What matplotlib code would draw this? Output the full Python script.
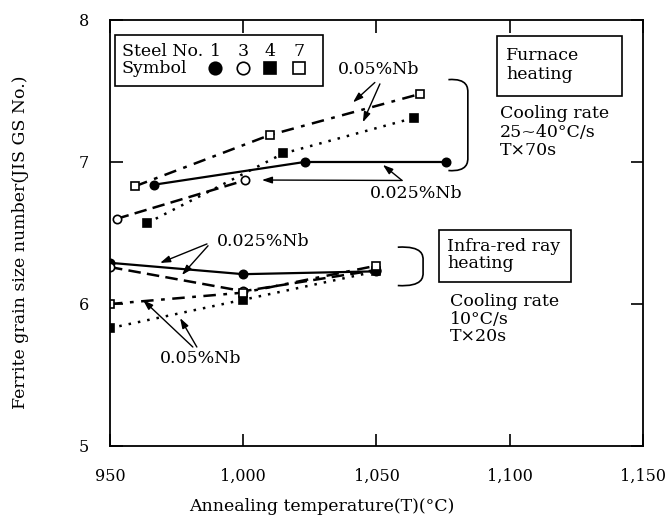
import numpy as np
import matplotlib
matplotlib.use('Agg')
import matplotlib.pyplot as plt
from matplotlib.path import Path
from matplotlib.patches import PathPatch, Rectangle

plt.rcParams['font.family'] = 'DejaVu Serif'

# steel numbers and their symbols
steels = ['1', '3', '4', '7']

# furnace heating
fx1 = [966.5, 1023, 1076]
fy1 = [6.84, 7.00, 7.00]
fx3 = [952.5, 1000.5]
fy3 = [6.60, 6.87]
fx4 = [964, 1015, 1064]
fy4 = [6.57, 7.06, 7.31]
fx7 = [959.5, 1010, 1066.5]
fy7 = [6.83, 7.19, 7.48]

# infra-red ray heating
ix = [950, 1000, 1050]
iy1 = [6.29, 6.21, 6.23]
iy3 = [6.26, 6.09, 6.24]
iy4 = [5.83, 6.03, 6.23]
iy7 = [6.00, 6.08, 6.27]

xticks = [950, 1000, 1050, 1100, 1150]
xticklabels = ['950', '1,000', '1,050', '1,100', '1,150']
yticks = [5, 6, 7, 8]

sty = {
    '1': dict(ls='-', marker='o', mfc='black', lw=1.6),
    '3': dict(ls=(0, (5, 2.5)), marker='o', mfc='white', lw=1.8),
    '4': dict(ls=(0, (1, 2.8)), marker='s', mfc='black', lw=1.8),
    '7': dict(ls=(0, (5, 3, 1.5, 3)), marker='s', mfc='white', lw=1.8),
}

fig = plt.figure(figsize=(6.69, 5.18), dpi=100)
ax = fig.add_axes([0.1644, 0.139, 0.7966, 0.8224])

def series(x, y, k):
    s = sty[k]
    ax.plot(x, y, color='black', ls=s['ls'], lw=s['lw'], marker=s['marker'],
            mfc=s['mfc'], mec='black', mew=1.2, ms=6)

series(fx1, fy1, '1')
series(fx3, fy3, '3')
series(fx4, fy4, '4')
series(fx7, fy7, '7')
series(ix, iy1, '1')
series(ix, iy3, '3')
series(ix, iy4, '4')
series(ix, iy7, '7')

ax.set_xlim(950, 1150)
ax.set_ylim(5, 8)
ax.set_xticks(xticks)
ax.set_xticklabels(xticklabels)
ax.set_yticks(yticks)
ax.tick_params(direction='in', length=9, width=1.2, top=True, right=True,
               labelsize=11.5)
ax.tick_params(axis='x', pad=16)
ax.tick_params(axis='y', pad=15)
for sp in ax.spines.values():
    sp.set_linewidth(1.3)

ax.set_xlabel('Annealing temperature(T)(°C)', fontsize=12.5, va='center')
ax.xaxis.set_label_coords(0.398, -0.143)
ax.set_ylabel('Ferrite grain size number(JIS GS No.)', fontsize=12.5, va='center')
ax.yaxis.set_label_coords(-0.167, 0.479)

# legend table
ax.add_patch(Rectangle((951.9, 7.535), 1030 - 951.9, 7.894 - 7.535, fill=False,
                       lw=1.2, ec='black', zorder=5))
ax.text(954.5, 7.775, 'Steel No.', fontsize=12.5, va='center', ha='left')
ax.text(954.5, 7.655, 'Symbol', fontsize=12.5, va='center', ha='left')
for xl, k in zip([989.4, 999.9, 1010, 1020.9], steels):
    ax.text(xl, 7.775, k, fontsize=12.5, va='center', ha='center')
    ax.plot([xl], [7.66], marker=sty[k]['marker'], mfc=sty[k]['mfc'], mec='black',
            mew=1.2, ms=9 if sty[k]['marker'] == 'o' else 8, ls='none')

# condition boxes
ax.add_patch(Rectangle((1095.2, 7.465), 1142.1 - 1095.2, 7.887 - 7.465,
                       fill=False, lw=1.2, ec='black'))
ax.text(1098.6, 7.68, 'Furnace\nheating', fontsize=12.5, va='center', ha='left',
        linespacing=1.15)
ax.text(1096.3, 7.211, 'Cooling rate\n25~40°C/s\nT×70s', fontsize=12.5,
        va='center', ha='left', linespacing=1.1)
ax.add_patch(Rectangle((1073.5, 6.155), 1123.0 - 1073.5, 6.521 - 6.155,
                       fill=False, lw=1.2, ec='black'))
ax.text(1076.5, 6.345, 'Infra-red ray\nheating', fontsize=12.5, va='center',
        ha='left', linespacing=1.05)
ax.text(1077.6, 5.894, 'Cooling rate\n10°C/s\nT×20s', fontsize=12.5,
        va='center', ha='left', linespacing=1.05)

def bracket(x0, x1, ytop, ybot):
    h = 0.06
    verts = [(x0, ytop), (x1, ytop + 0.01), (x1, ytop - h), (x1, ytop - h * 1.5),
             (x1, ybot + h * 1.5), (x1, ybot + h), (x1, ybot - 0.01), (x0, ybot)]
    codes = [Path.MOVETO, Path.CURVE4, Path.CURVE4, Path.CURVE4,
             Path.LINETO, Path.CURVE4, Path.CURVE4, Path.CURVE4]
    ax.add_patch(PathPatch(Path(verts, codes), fill=False, lw=1.2, ec='black'))

bracket(1077, 1084.3, 7.58, 6.94)
bracket(1058, 1067.5, 6.40, 6.13)

def note(txt, tx, ty, starts, ends):
    ax.text(tx, ty, txt, fontsize=12.5, va='center', ha='left')
    for (sx, sy), (ex, ey) in zip(starts, ends):
        ax.annotate('', xy=(ex, ey), xytext=(sx, sy),
                    arrowprops=dict(arrowstyle='-|>,head_length=0.6,head_width=0.2',
                                    color='black', lw=1.0, shrinkA=0, shrinkB=0))

note('0.05%Nb', 1035.6, 7.65, [(1049.4, 7.56), (1051.3, 7.55)],
     [(1041.2, 7.42), (1044.9, 7.28)])
note('0.025%Nb', 1047.6, 6.775, [(1059.6, 6.87), (1059.6, 6.87)],
     [(1007, 6.873), (1052.4, 6.98)])
note('0.025%Nb', 990.2, 6.437, [(986.4, 6.423), (986.8, 6.41)],
     [(968.8, 6.289), (977, 6.204)])
note('0.05%Nb', 968.8, 5.613, [(981.1, 5.697), (982.6, 5.697)],
     [(962.4, 6.028), (976.3, 5.901)])

fig.savefig('out.png', dpi=100)
